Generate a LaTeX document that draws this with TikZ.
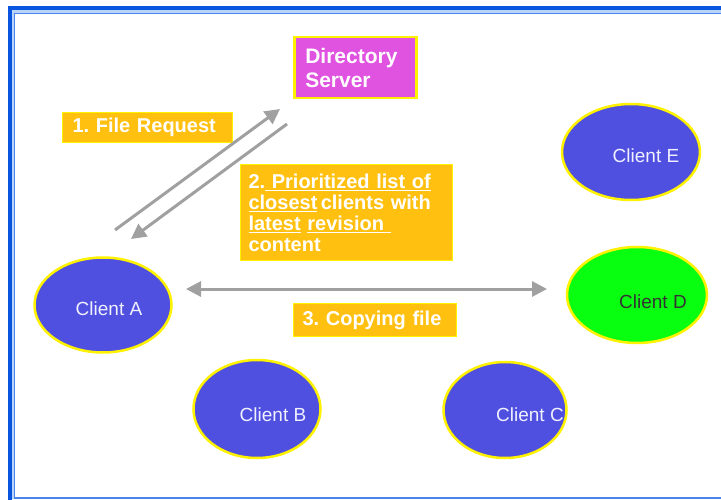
\documentclass[tikz,border=0pt]{standalone}
\usepackage{fontspec}
\setmainfont{Liberation Sans}
\usetikzlibrary{shapes.geometric,arrows.meta,calc}
\definecolor{frameblue}{HTML}{0A55E0}
\definecolor{framelight}{HTML}{B8D4F8}
\definecolor{framemid}{HTML}{4A84EC}
\definecolor{boxorange}{HTML}{FFC010}
\definecolor{dirmagenta}{HTML}{E052E0}
\definecolor{clientblue}{HTML}{5050E0}
\definecolor{clientgreen}{HTML}{08FF10}
\definecolor{arrowgray}{HTML}{A0A0A0}
\frenchspacing
\begin{document}
\begin{tikzpicture}[x=1pt,y=-1pt,
  labelbox/.style={draw=yellow,line width=1pt,fill=boxorange,anchor=north west,
    inner ysep=0pt,align=left,text=white,
    font=\fontsize{20}{21}\selectfont\bfseries\frenchspacing},
  dirbox/.style={draw=yellow,line width=2.5pt,fill=dirmagenta,anchor=north west,
    inner xsep=10pt,inner ysep=0pt,align=left,text=white,
    minimum width=122pt,minimum height=61pt,text width=100pt,
    font=\fontsize{21}{24}\selectfont\bfseries},
  client/.style={ellipse,draw=yellow,line width=2.5pt,fill=clientblue,inner sep=0pt},
  cltext/.style={text=white!94!blue,font=\fontsize{19}{20}\selectfont},
  garrow/.style={draw=arrowgray,line width=3pt,-{Triangle[length=15pt,width=15pt]}},
  garrows/.style={draw=arrowgray,line width=3pt,{Triangle[length=15pt,width=15pt]}-{Triangle[length=15pt,width=15pt]}}
]
\useasboundingbox (0,0) rectangle (721,500);
% frame
\fill[frameblue] (8,6) rectangle (721,500);
\fill[framelight] (12,10) rectangle (721,500);
\fill[white] (12,499) rectangle (721,500);
\draw[framemid,line width=1.5pt,fill=white] (14.5,13.5) rectangle (735,498);

% directory server
\node[dirbox] (dir) at (293,36) {Directory\\Server};

% clients
\node[client,minimum width=137pt,minimum height=95pt] (A) at (103,305) {};
\node[client,minimum width=127pt,minimum height=98pt] (B) at (257,409) {};
\node[client,minimum width=123pt,minimum height=96pt] (C) at (505,410) {};
\node[client,fill=clientgreen,minimum width=140pt,minimum height=96pt] (D) at (637,295) {};
\node[client,minimum width=138pt,minimum height=96pt] (E) at (631,152) {};
\node[cltext] (tA) at (109,309) {Client A};
\node[cltext] (tB) at (273,415) {Client B};
\node[cltext] (tC) at (530,415) {Client C};
\node[cltext,text=black!80] (tD) at (653,302) {Client D};
\node[cltext] (tE) at (646,156) {Client E};

% label boxes
\node[labelbox,inner xsep=10pt,minimum width=170pt,minimum height=30pt,text width=150pt] (l1) at (62,112) {1. File Request};
\node[labelbox,inner xsep=8pt,minimum width=212pt,minimum height=96pt,text width=196pt] (l2) at (240,164)
  {2.\underline{\ Prioritized list of}\\\underline{closest}\,clients with\\\underline{latest} \underline{revision\ }\\content};
\node[labelbox,inner xsep=9pt,minimum width=163pt,minimum height=33pt,text width=145pt] (l3) at (293,303) {3. Copying file};

% connectors
\coordinate (r1s) at (115,230);
\coordinate (r1e) at (280,109);
\coordinate (r2s) at (287,124);
\coordinate (r2e) at (131,239);
\coordinate (c3s) at (186,289);
\coordinate (c3e) at (547,289);
\draw[garrow] (r1s) -- (r1e);
\draw[garrow] (r2s) -- (r2e);
\draw[garrows] (c3s) -- (c3e);
\end{tikzpicture}
\end{document}
